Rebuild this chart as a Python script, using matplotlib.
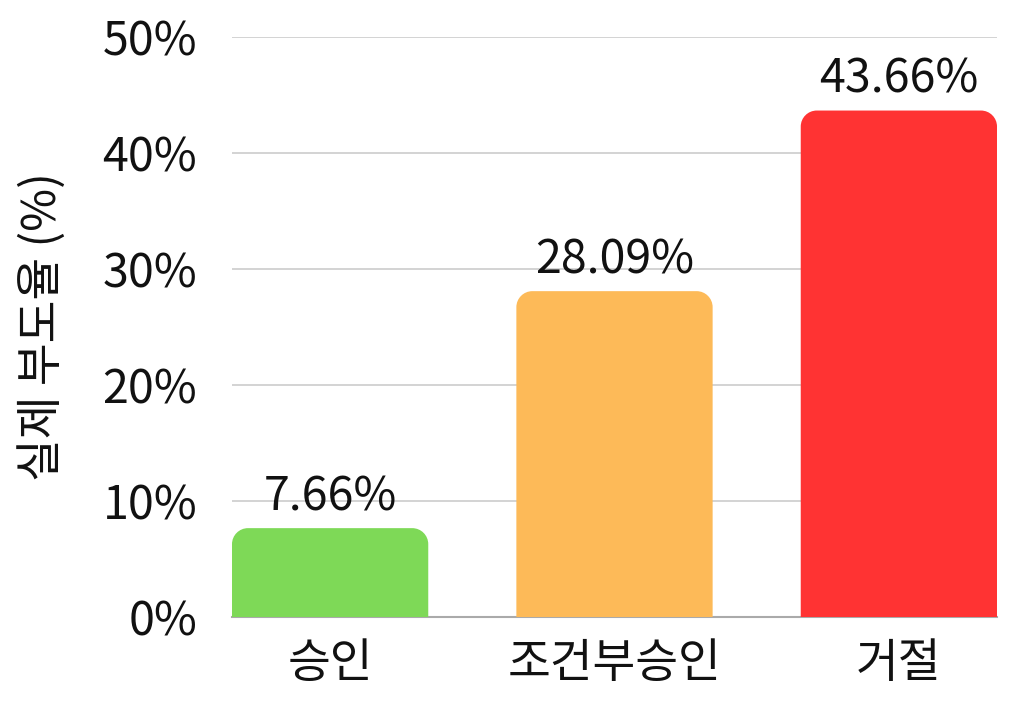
import matplotlib
matplotlib.use("Agg")
import matplotlib.pyplot as plt
from matplotlib.path import Path
from matplotlib.patches import PathPatch

plt.rcParams['font.family'] = ['Noto Sans CJK KR', 'DejaVu Sans']

categories = ['승인', '조건부승인', '거절']
values = [7.66, 28.09, 43.66]
colors = ['#7ED957', '#FDBA58', '#FF3333']
yticks = [0, 10, 20, 30, 40, 50]

FS = 33.5
W, H = 1024, 704
fig = plt.figure(figsize=(W / 100, H / 100), dpi=100)
ax = fig.add_axes([232 / W, 1 - 617 / H, (997 - 232) / W, (617 - 37) / H])

bw = 196 / 284
xs = list(range(len(categories)))
ax.set_xlim(-bw / 2, xs[-1] + bw / 2)
ax.set_ylim(0, 50)

# pixel scale for rounded corners
px_x = (997 - 232) / (xs[-1] + bw)
px_y = (617 - 37) / 50
r_px = 16
rx, ry = r_px / px_x, r_px / px_y
k = 0.5523

for x, v, c in zip(xs, values, colors):
    x0, x1 = x - bw / 2, x + bw / 2
    verts = [
        (x0, 0), (x0, v - ry),
        (x0, v - ry + k * ry), (x0 + rx - k * rx, v), (x0 + rx, v),
        (x1 - rx, v),
        (x1 - rx + k * rx, v), (x1, v - ry + k * ry), (x1, v - ry),
        (x1, 0), (x0, 0),
    ]
    codes = [Path.MOVETO, Path.LINETO,
             Path.CURVE4, Path.CURVE4, Path.CURVE4,
             Path.LINETO,
             Path.CURVE4, Path.CURVE4, Path.CURVE4,
             Path.LINETO, Path.CLOSEPOLY]
    ax.add_patch(PathPatch(Path(verts, codes), facecolor=c, edgecolor='none', zorder=3))
    ax.annotate(f'{v:.2f}%', (x, v), xytext=(0, 5), textcoords='offset points',
                ha='center', va='bottom', fontsize=FS, color='#111111', zorder=4)

ax.set_yticks(yticks)
ax.set_yticklabels([f'{t}%' for t in yticks])
ax.set_xticks(xs)
ax.set_xticklabels(categories)
ax.tick_params(axis='both', length=0, labelsize=FS, colors='#111111')
ax.tick_params(axis='y', pad=25)
ax.tick_params(axis='x', pad=16)
ax.yaxis.grid(True, color='#cccccc', linewidth=1.2, zorder=0)
ax.set_axisbelow(True)
for s in ['top', 'right', 'left']:
    ax.spines[s].set_visible(False)
ax.spines['bottom'].set_color('#aaaaaa')
ax.spines['bottom'].set_linewidth(1.5)
ax.spines['bottom'].set_zorder(2)
ax.set_ylabel('실제 부도율 (%)', fontsize=FS, color='#111111', labelpad=26)

fig.savefig('out.png', dpi=100)
